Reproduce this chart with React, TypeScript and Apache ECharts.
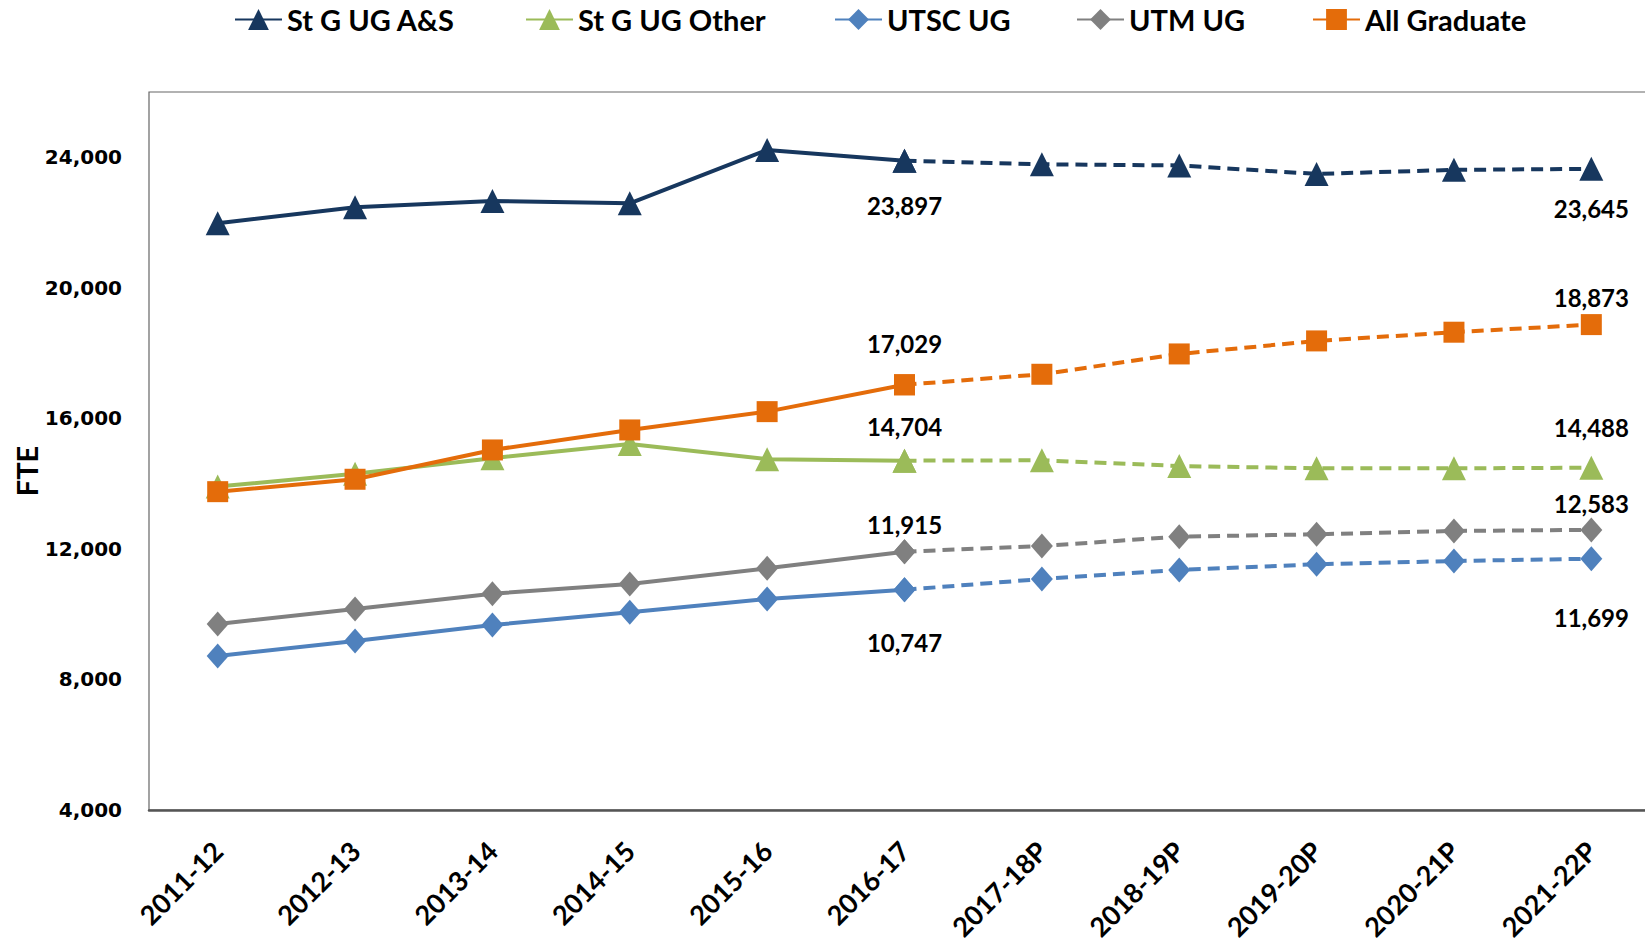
import React, { useEffect, useRef } from "react";
import * as echarts from "echarts";

const categories = ["2011-12", "2012-13", "2013-14", "2014-15", "2015-16", "2016-17", "2017-18P", "2018-19P", "2019-20P", "2020-21P", "2021-22P"];
const seriesNames = ["St G UG A&S", "St G UG Other", "UTSC UG", "UTM UG", "All Graduate"];
const stgAS = [21980, 22470, 22660, 22590, 24225, 23897, 23785, 23750, 23490, 23614, 23645];
const stgOther = [13910, 14300, 14780, 15215, 14750, 14704, 14715, 14540, 14470, 14470, 14488];
const utsc = [8718, 9178, 9668, 10057, 10465, 10747, 11078, 11354, 11529, 11630, 11699];
const utm = [9699, 10159, 10627, 10925, 11406, 11915, 12090, 12375, 12448, 12550, 12583];
const grad = [13754, 14134, 15032, 15645, 16206, 17029, 17351, 17974, 18373, 18640, 18873];
const yTicks = [4000, 8000, 12000, 16000, 20000, 24000];
const yAxisTitle = "FTE";
const lastActualIndex = 5;

const styles = [
  { color: "#17375E", symbol: "triangle", size: 24, offsets: [45, 40] },
  { color: "#9BBB59", symbol: "triangle", size: 24, offsets: [-34, -40] },
  { color: "#4F81BD", symbol: "diamond", size: [22, 25], offsets: [53, 59] },
  { color: "#808080", symbol: "diamond", size: [22, 25], offsets: [-27, -26] },
  { color: "#E46C0A", symbol: "rect", size: 21, offsets: [-41, -27] },
];
const legendLefts = [234, 525, 834, 1076, 1312];

const labelFont = "Lato, 'Open Sans', sans-serif";

function makeLabel(offset: number) {
  return {
    show: true,
    position: "inside",
    offset: [0, offset],
    color: "#000",
    fontFamily: labelFont,
    fontWeight: "bold",
    fontSize: 24,
    formatter: (p: any) => Number(p.value).toLocaleString("en-US"),
  };
}

export default function App() {
  const ref = useRef<HTMLDivElement>(null);
  useEffect(() => {
    if (!ref.current) return;
    const chart = echarts.init(ref.current, undefined, { renderer: "svg" });
    const all = [stgAS, stgOther, utsc, utm, grad];
    const series: any[] = [];
    all.forEach((vals, si) => {
      const st = styles[si];
      const common = {
        type: "line",
        symbol: st.symbol,
        symbolSize: st.size,
        itemStyle: { color: st.color },
        z: 2 + si,
      };
      series.push({
        ...common,
        name: seriesNames[si],
        lineStyle: { color: st.color, width: 4 },
        data: vals.map((v, i) =>
          i < lastActualIndex ? v : i === lastActualIndex ? { value: v, label: makeLabel(st.offsets[0]) } : null
        ),
      });
      series.push({
        ...common,
        name: seriesNames[si] + " (projected)",
        lineStyle: { color: st.color, width: 4, type: [12, 7] },
        data: vals.map((v, i) =>
          i < lastActualIndex ? null : i === vals.length - 1 ? { value: v, label: makeLabel(st.offsets[1]) } : v
        ),
      });
    });
    chart.setOption({
      animation: false,
      backgroundColor: "#fff",
      legend: seriesNames.map((n, i) => ({
        data: [n],
        left: legendLefts[i],
        top: 5,
        padding: 0,
        itemWidth: 47,
        itemHeight: 26,
        selectedMode: false,
        textStyle: { fontFamily: labelFont, fontWeight: "bold", fontSize: 29, color: "#000" },
      })),
      graphic: [
        {
          type: "text",
          x: 26,
          y: 471,
          rotation: Math.PI / 2,
          style: {
            text: yAxisTitle,
            fontFamily: labelFont,
            fontWeight: "bold",
            fontSize: 29,
            fill: "#000",
            align: "center",
            verticalAlign: "middle",
          },
        },
      ],
      grid: {
        left: 149,
        top: 92,
        right: 40,
        bottom: 134,
        outerBoundsMode: "none",
        show: true,
        borderColor: "#666",
        borderWidth: 1.2,
      },
      xAxis: {
        type: "category",
        data: categories,
        boundaryGap: true,
        axisLine: { show: true, lineStyle: { color: "#555", width: 2.5 } },
        axisTick: { show: false },
        axisLabel: {
          interval: 0,
          rotate: 45,
          margin: 36,
          color: "#000",
          fontFamily: labelFont,
          fontWeight: "bold",
          fontSize: 27,
        },
        splitLine: { show: false },
      },
      yAxis: {
        type: "value",
        min: yTicks[0],
        max: 26000,
        interval: 4000,
        axisLine: { show: false },
        axisTick: { show: false },
        splitLine: { show: false },
        axisLabel: {
          showMaxLabel: false,
          margin: 27,
          color: "#000",
          fontFamily: "'DejaVu Sans', sans-serif",
          fontWeight: "bold",
          fontSize: 20,
          formatter: (v: number) => v.toLocaleString("en-US"),
        },
      },
      series,
    });
    return () => chart.dispose();
  }, []);
  return (
    <div style={{ position: "fixed", left: 0, top: 0, width: 1645, height: 944, overflow: "hidden", background: "#fff" }}>
      <div ref={ref} style={{ position: "absolute", left: 0, top: 0, width: 1700, height: 944 }} />
    </div>
  );
}
